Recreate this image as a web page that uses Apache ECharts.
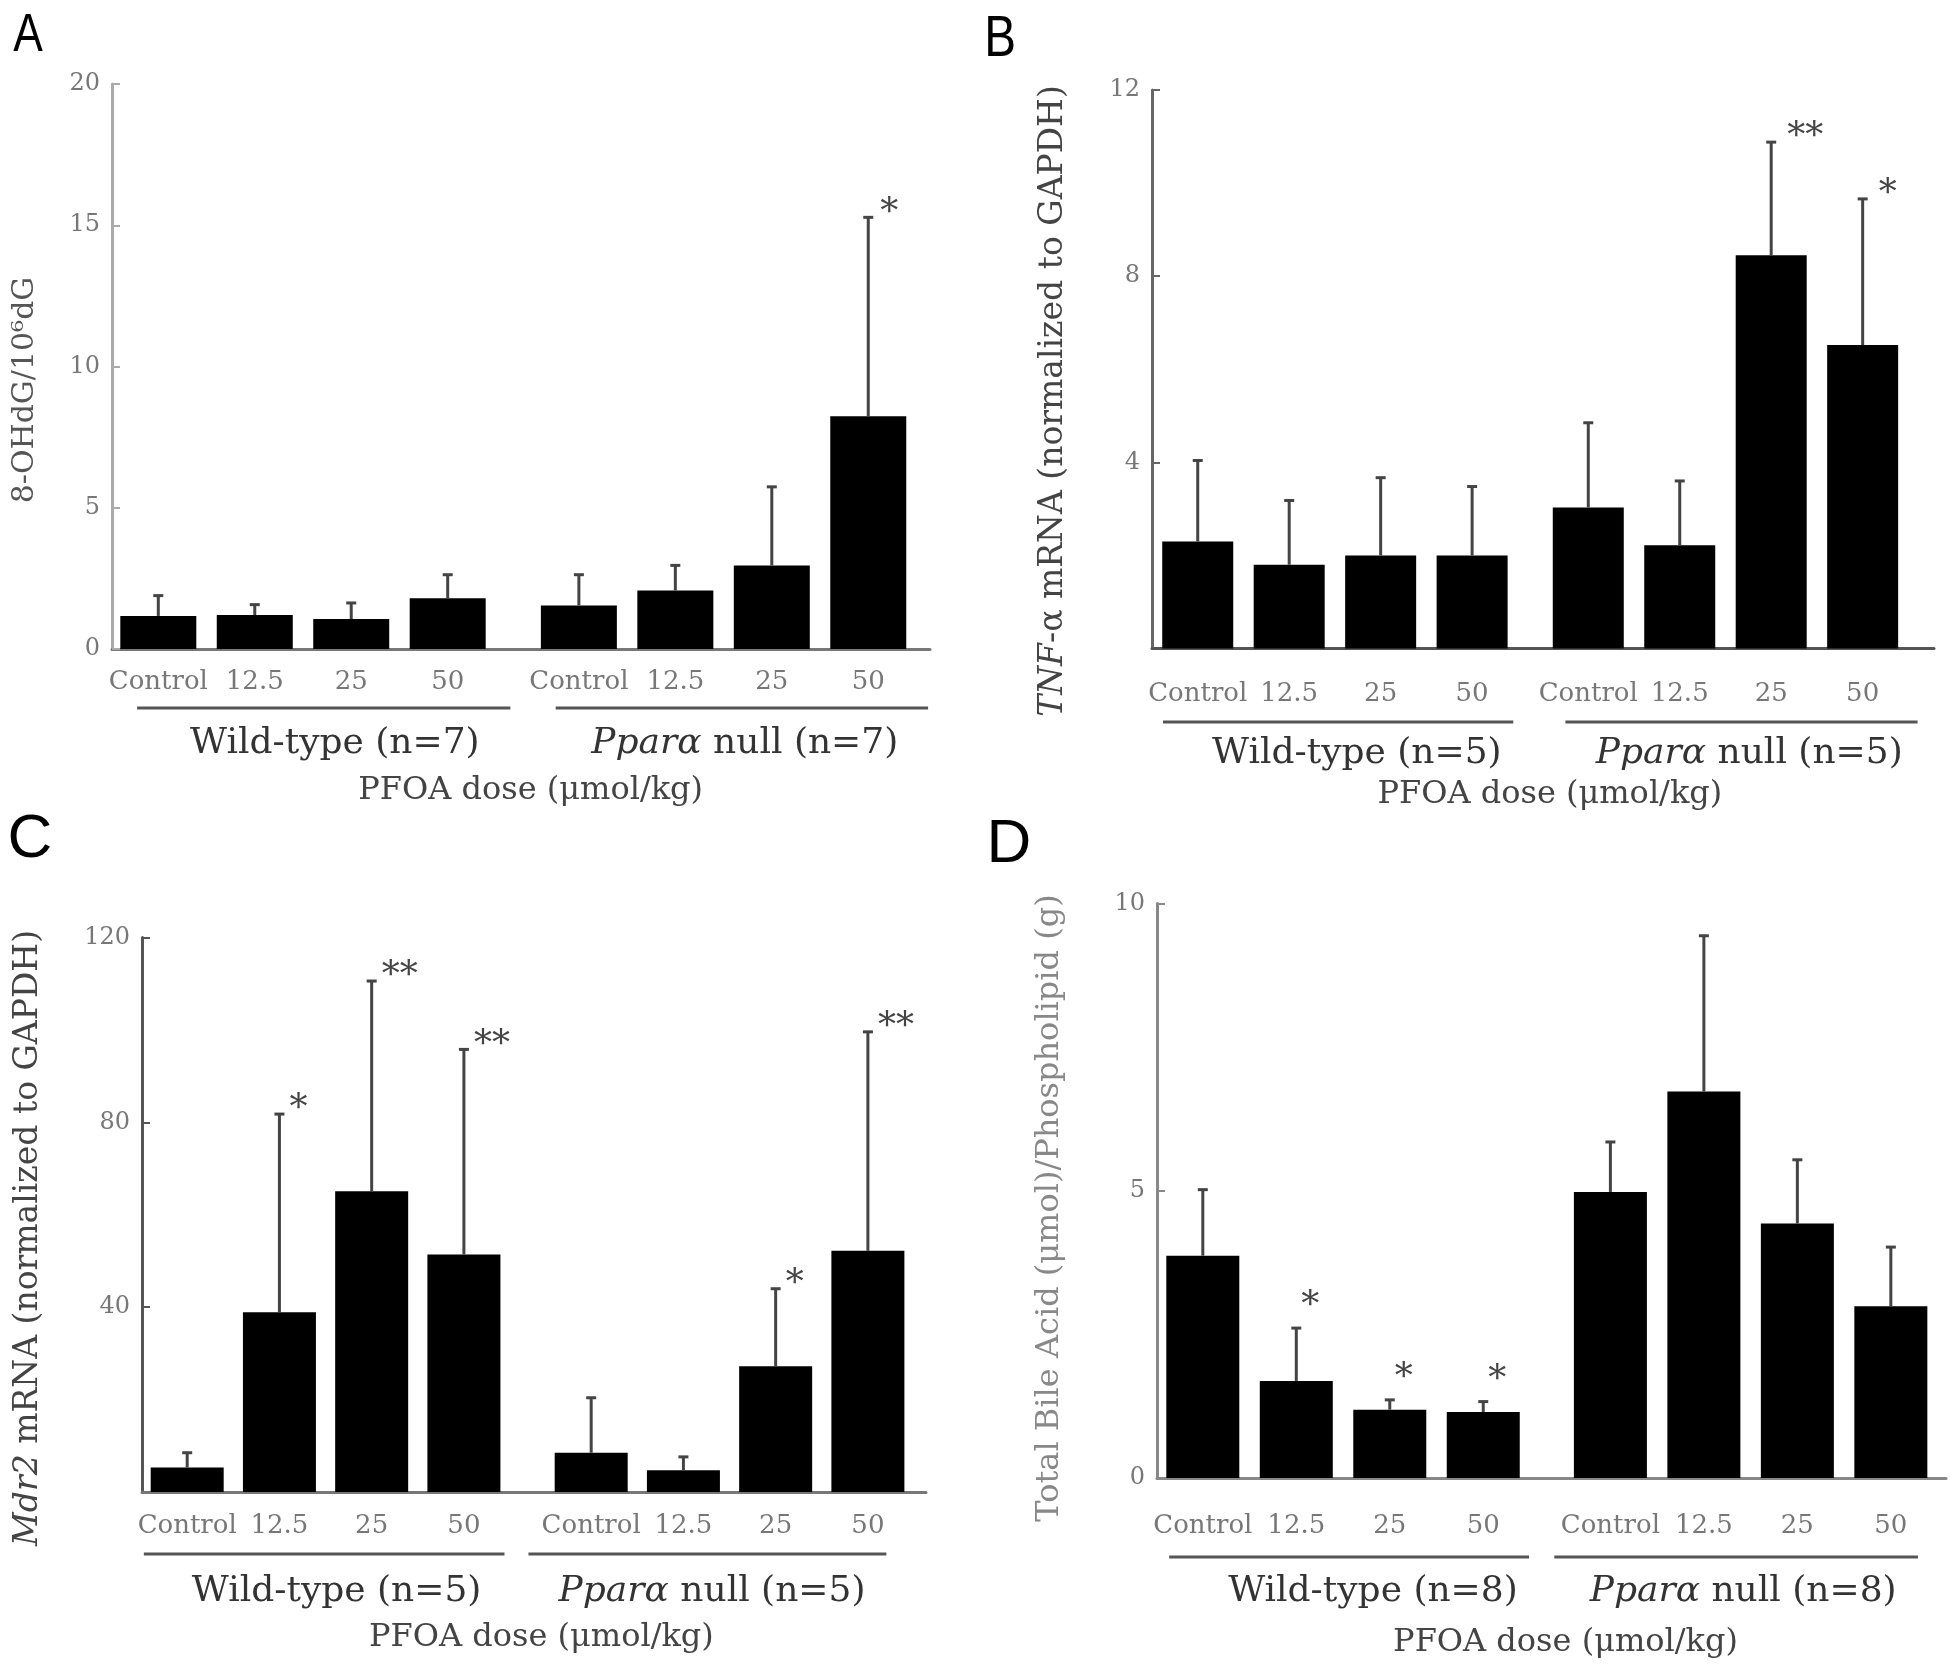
<!DOCTYPE html>
<html><head><meta charset="utf-8">
<script src="https://cdn.jsdelivr.net/npm/echarts@6/dist/echarts.min.js"></script>
<style>html,body{margin:0;padding:0;background:#fff}#c{width:1950px;height:1666px}</style>
</head><body><div id="c"></div>
<script>
// ---------- data ----------
const categories = ['Control', '12.5', '25', '50', 'Control', '12.5', '25', '50'];
const xTitle = 'PFOA dose (μmol/kg)';

const groupsA = ['Wild-type (n=7)', '{i|Pparα} null (n=7)'];
const meanA  = [1.17, 1.20, 1.06, 1.80, 1.54, 2.07, 2.96, 8.24];
const upperA = [1.89, 1.57, 1.63, 2.63, 2.63, 2.96, 5.74, 15.28];
const starsA = ['', '', '', '', '', '', '', '*'];
const yMaxA = 20, yStepA = 5;
const yTitleA = '8-OHdG/10⁶dG';

const groupsB = ['Wild-type (n=5)', '{i|Pparα} null (n=5)'];
const meanB  = [2.30, 1.80, 2.00, 2.00, 3.03, 2.22, 8.45, 6.52];
const upperB = [4.04, 3.18, 3.67, 3.48, 4.85, 3.60, 10.88, 9.66];
const starsB = ['', '', '', '', '', '', '**', '*'];
const yMaxB = 12, yStepB = 4;
const yTitleB = '{i|TNF}-α mRNA (normalized to GAPDH)';

const groupsC = ['Wild-type (n=5)', '{i|Pparα} null (n=5)'];
const meanC  = [5.3, 38.9, 65.1, 51.4, 8.5, 4.7, 27.2, 52.2];
const upperC = [8.5, 81.8, 110.6, 95.8, 20.4, 7.6, 44.0, 99.6];
const starsC = ['', '*', '**', '**', '', '', '*', '**'];
const yMaxC = 120, yStepC = 40;
const yTitleC = '{i|Mdr2} mRNA (normalized to GAPDH)';

const groupsD = ['Wild-type (n=8)', '{i|Pparα} null (n=8)'];
const meanD  = [3.87, 1.69, 1.19, 1.15, 4.98, 6.73, 4.43, 2.99];
const upperD = [5.02, 2.61, 1.36, 1.33, 5.85, 9.44, 5.54, 4.02];
const starsD = ['', '*', '*', '*', '', '', '', ''];
const yMaxD = 10, yStepD = 5;
const yTitleD = 'Total Bile Acid (μmol)/Phospholipid (g)';

// ---------- layout ----------
const SERIF = 'DejaVu Serif';
const panels = [
  { letter: 'A', mean: meanA, upper: upperA, stars: starsA, groups: groupsA, yMax: yMaxA, yStep: yStepA, yTitle: yTitleA, showZero: true,
    L: { left: 112, top: 84, width: 818, height: 565, xMin: -0.48, xMax: 8.0, gap: 0.36, barWidth: 76,
         catDy: 33, lineDy: 59, groupDy: 95, titleDy: 142, titleX: 3.86, line: [[-0.22, 0.65], [-0.24, 0.62]], groupCx: [1.83, 1.72],
         starAlign: 'left', starDx: 12, starDy: -4, yColor: '#aaa', xColor: '#777',
         yt: { x: 25, y: 390, size: 30, color: '#555' }, lt: { x: 28, y: 36, size: 54, sx: 0.82 } } },
  { letter: 'B', mean: meanB, upper: upperB, stars: starsB, groups: groupsB, yMax: yMaxB, yStep: yStepB, yTitle: yTitleB, showZero: false,
    L: { left: 1152, top: 90, width: 782, height: 558.5, xMin: -0.5, xMax: 8.05, gap: 0.27, barWidth: 71,
         catDy: 46, lineDy: 73.5, groupDy: 105, titleDy: 146.5, titleX: 3.85, line: [[-0.38, 0.45], [-0.25, 0.6]], groupCx: [1.74, 1.76],
         starAlign: 'left', starDx: 16, starDy: -4, yColor: '#666', xColor: '#555',
         yt: { x: 1053, y: 401, size: 33, color: '#444' }, lt: { x: 1000, y: 40, size: 58, sx: 0.82 } } },
  { letter: 'C', mean: meanC, upper: upperC, stars: starsC, groups: groupsC, yMax: yMaxC, yStep: yStepC, yTitle: yTitleC, showZero: false,
    L: { left: 142, top: 937.6, width: 784, height: 554.4, xMin: -0.49, xMax: 8.01, gap: 0.38, barWidth: 73,
         catDy: 34, lineDy: 62, groupDy: 100, titleDy: 146, titleX: 3.84, line: [[-0.47, 0.44], [-0.68, 0.2]], groupCx: [1.62, 1.31],
         starAlign: 'left', starDx: 10, starDy: -4, yColor: '#555', xColor: '#777',
         yt: { x: 28, y: 1238, size: 33, color: '#444' }, lt: { x: 30, y: 840, size: 62, sx: 1 } } },
  { letter: 'D', mean: meanD, upper: upperD, stars: starsD, groups: groupsD, yMax: yMaxD, yStep: yStepD, yTitle: yTitleD, showZero: true,
    L: { left: 1157, top: 903.6, width: 789, height: 574.4, xMin: -0.49, xMax: 7.95, gap: 0.36, barWidth: 73,
         catDy: 48, lineDy: 79, groupDy: 114, titleDy: 165, titleX: 3.88, line: [[-0.36, 0.49], [-0.6, 0.29]], groupCx: [1.82, 1.42],
         starAlign: 'center', starDx: 14, starDy: -21, yColor: '#888', xColor: '#888',
         yt: { x: 1050, y: 1208, size: 32, color: '#888' }, lt: { x: 1009, y: 845, size: 62, sx: 1 } } }
];

const option = { animation: false, backgroundColor: '#fff', grid: [], xAxis: [], yAxis: [], series: [], graphic: [] };

panels.forEach((p, idx) => {
  const L = p.L;
  const pos = p.mean.map((_, i) => i + (i >= 4 ? L.gap : 0));
  option.grid.push({ left: L.left, top: L.top, width: L.width, height: L.height });
  option.xAxis.push({ gridIndex: idx, type: 'value', min: L.xMin, max: L.xMax,
    axisLine: { show: true, onZero: false, lineStyle: { color: L.xColor, width: 3 } },
    axisTick: { show: false }, axisLabel: { show: false }, splitLine: { show: false } });
  option.yAxis.push({ gridIndex: idx, type: 'value', min: 0, max: p.yMax, interval: p.yStep,
    axisLine: { show: true, onZero: false, lineStyle: { color: L.yColor, width: 3 } },
    axisTick: { show: true, inside: true, length: 8, lineStyle: { color: L.yColor, width: 2 } },
    axisLabel: { showMinLabel: p.showZero, fontFamily: SERIF, fontSize: 24, color: '#777', margin: 12 },
    splitLine: { show: false } });
  option.series.push({ type: 'bar', xAxisIndex: idx, yAxisIndex: idx, barWidth: L.barWidth, silent: true,
    itemStyle: { color: '#000' }, data: pos.map((x, i) => [x, p.mean[i]]) });
  // error bars, stars, category labels
  option.series.push({ type: 'custom', xAxisIndex: idx, yAxisIndex: idx, silent: true, clip: false, z: 5,
    encode: { x: 0, y: 1 },
    data: pos.map((x, i) => [x, p.mean[i], p.upper[i]]),
    renderItem: (params, api) => {
      const i = params.dataIndex;
      const x = api.value(0);
      const a = api.coord([x, api.value(1)]);
      const b = api.coord([x, api.value(2)]);
      const z = api.coord([x, 0]);
      const ch = [
        { type: 'line', shape: { x1: a[0], y1: a[1], x2: b[0], y2: b[1] }, style: { stroke: '#444', lineWidth: 3 } },
        { type: 'line', shape: { x1: b[0] - 5, y1: b[1], x2: b[0] + 5, y2: b[1] }, style: { stroke: '#444', lineWidth: 3 } },
        { type: 'text', x: z[0], y: z[1] + L.catDy, style: { text: categories[i], fontFamily: SERIF, fontSize: 26, fill: '#777', align: 'center', verticalAlign: 'middle' } }
      ];
      if (p.stars[i]) {
        ch.push({ type: 'text', x: b[0] + L.starDx, y: b[1] + L.starDy,
          style: { text: p.stars[i], fontFamily: SERIF, fontSize: 36, fill: '#444', align: L.starAlign, verticalAlign: 'middle' } });
      }
      return { type: 'group', children: ch };
    } });
  // group underlines, group labels, x title
  option.series.push({ type: 'custom', xAxisIndex: idx, yAxisIndex: idx, silent: true, clip: false, z: 5,
    encode: { x: 0, y: 1 },
    data: [[pos[0], 0, pos[3]], [pos[4], 0, pos[7]]],
    renderItem: (params, api) => {
      const i = params.dataIndex;
      const x0 = api.value(0), x1 = api.value(2);
      const a = api.coord([x0 + L.line[i][0], 0]);
      const b = api.coord([x1 + L.line[i][1], 0]);
      const c = api.coord([x0 + L.groupCx[i], 0]);
      const ch = [
        { type: 'line', shape: { x1: a[0], y1: a[1] + L.lineDy, x2: b[0], y2: b[1] + L.lineDy }, style: { stroke: '#555', lineWidth: 3 } },
        { type: 'text', x: c[0], y: c[1] + L.groupDy, style: { text: p.groups[i], fontFamily: SERIF, fontSize: 36, fill: '#333', align: 'center', verticalAlign: 'middle',
          rich: { i: { fontStyle: 'italic', fontFamily: SERIF, fontSize: 36, fill: '#333' } } } }
      ];
      if (i === 0) {
        const t = api.coord([L.titleX, 0]);
        ch.push({ type: 'text', x: t[0], y: t[1] + L.titleDy, style: { text: xTitle, fontFamily: SERIF, fontSize: 32, fill: '#444', align: 'center', verticalAlign: 'middle' } });
      }
      return { type: 'group', children: ch };
    } });
  option.graphic.push({ type: 'text', x: L.yt.x, y: L.yt.y, rotation: Math.PI / 2,
    style: { text: p.yTitle, fontFamily: SERIF, fontSize: L.yt.size, fill: L.yt.color, align: 'center', verticalAlign: 'middle',
      rich: { i: { fontStyle: 'italic', fontFamily: SERIF, fontSize: L.yt.size, fill: L.yt.color } } } });
  option.graphic.push({ type: 'text', x: L.lt.x, y: L.lt.y, scaleX: L.lt.sx,
    style: { text: p.letter, fontFamily: 'Liberation Sans', fontSize: L.lt.size, fill: '#000', align: 'center', verticalAlign: 'middle' } });
});

const chart = echarts.init(document.getElementById('c'), null, { renderer: 'canvas' });
chart.setOption(option);
</script>
</body></html>
